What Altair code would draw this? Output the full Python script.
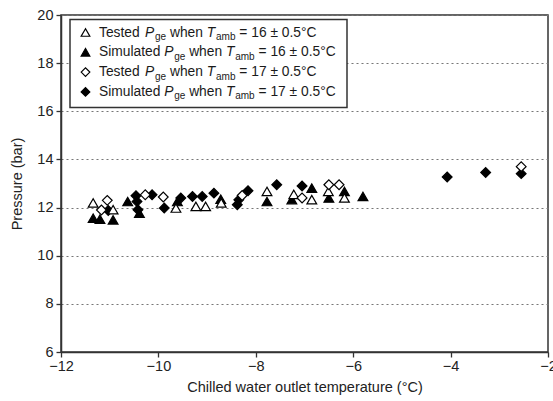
import altair as alt
import pandas as pd

# ---- data ----
t16_x = [-11.34, -10.93, -9.64, -9.23, -9.03, -8.71, -7.77, -7.22, -6.85, -6.51, -6.18]
t16_y = [12.19, 11.91, 11.98, 12.05, 12.05, 12.19, 12.67, 12.55, 12.33, 12.67, 12.40]

s16_x = [-11.34, -11.20, -10.93, -10.63, -10.39, -9.61, -8.72, -7.77, -7.26, -6.85, -6.50, -6.18, -5.80]
s16_y = [11.56, 11.52, 11.49, 12.25, 11.77, 12.25, 12.35, 12.25, 12.33, 12.81, 12.40, 12.67, 12.46]

t17_x = [-11.05, -11.17, -10.27, -9.90, -8.28, -7.05, -6.50, -6.29, -2.55]
t17_y = [12.30, 11.90, 12.53, 12.44, 12.50, 12.40, 12.95, 12.95, 13.70]

s17_x = [-11.03, -10.46, -10.44, -10.42, -10.13, -9.88, -9.54, -9.30, -9.10, -8.86,
         -8.38, -8.35, -8.16, -7.57, -7.05, -4.07, -3.28, -2.55]
s17_y = [11.88, 12.49, 12.25, 11.91, 12.53, 11.98, 12.40, 12.46, 12.46, 12.60,
         12.12, 12.32, 12.70, 12.95, 12.90, 13.27, 13.46, 13.41]

x_ticks = [-12, -10, -8, -6, -4, -2]
y_ticks = [6, 8, 10, 12, 14, 16, 18, 20]

series_names = ["t16", "s16", "t17", "s17"]
legend_prefix = ["Tested ", "Simulated ", "Tested ", "Simulated "]
legend_temp = ["16", "16", "17", "17"]

FONT = "Liberation Sans"

rows = []
for name, xs, ys in [("t16", t16_x, t16_y), ("s16", s16_x, s16_y),
                     ("t17", t17_x, t17_y), ("s17", s17_x, s17_y)]:
    for a, b in zip(xs, ys):
        rows.append({"series": name, "temp": a, "pressure": b})
df = pd.DataFrame(rows)

shape_scale = alt.Scale(domain=series_names,
                        range=["triangle-up", "triangle-up", "diamond", "diamond"])
fill_scale = alt.Scale(domain=series_names,
                       range=["white", "black", "white", "black"])

points = alt.Chart(df).mark_point(filled=True, stroke="black", strokeWidth=1.2,
                                  size=95, opacity=1).encode(
    x=alt.X("temp:Q", scale=alt.Scale(domain=[-12, -2], nice=False),
            axis=alt.Axis(values=x_ticks, grid=False, labelFlush=False,
                          title="Chilled water outlet temperature (°C)",
                          format="d")),
    y=alt.Y("pressure:Q", scale=alt.Scale(domain=[6, 20], nice=False),
            axis=alt.Axis(values=y_ticks, grid=True, title="Pressure (bar)",
                          labelFlush=False, format="d")),
    shape=alt.Shape("series:N", scale=shape_scale, legend=None),
    fill=alt.Fill("series:N", scale=fill_scale, legend=None),
    order=alt.Order("series:N"),
)

# ---- hand-built legend (for subscripts / italics) ----
W = {' ': 278, '=': 584, '±': 584, '.': 278, '°': 400, 'C': 722, 'S': 667, 'T': 611,
     'P': 667, 'a': 556, 'b': 556, 'd': 556, 'e': 556, 'g': 556, 'h': 556, 'i': 222,
     'l': 222, 'm': 833, 'n': 556, 's': 500, 't': 278, 'u': 556, 'w': 722}


def tw(s, size):
    return sum(W.get(c, 556) for c in s) * size / 1000.0


one = pd.DataFrame({"k": [0]})
FS = 13.8
SUB = 10
box = alt.Chart(one).mark_rect(fill="white", stroke="#333", strokeWidth=1.5).encode(
    x=alt.value(9), x2=alt.value(286), y=alt.value(4.5), y2=alt.value(92.5))

layers = [points, box]
sym_shapes = ["triangle-up", "triangle-up", "diamond", "diamond"]
sym_fill = ["white", "black", "white", "black"]
for i in range(4):
    yc = 17.5 + 19.8 * i
    layers.append(alt.Chart(one).mark_point(shape=sym_shapes[i], filled=True,
                                            fill=sym_fill[i], stroke="black",
                                            strokeWidth=1.2, size=75, opacity=1).encode(
        x=alt.value(24.5), y=alt.value(yc)))
    pieces = [(legend_prefix[i], "normal"), ("P", "italic"), ("ge", "sub"),
              (" when ", "normal"), ("T", "italic"), ("amb", "sub"),
              (" = " + legend_temp[i] + " ± 0.5°C", "normal")]
    xpos = 38.0
    for txt, style in pieces:
        size = SUB if style == "sub" else FS
        dy = 4.5 if style == "sub" else 0
        lead = len(txt) - len(txt.lstrip(" "))
        shown = txt.strip(" ")
        mk = dict(align="left", baseline="middle", font=FONT, fontSize=size,
                  color="#1a1a1a")
        if style == "italic":
            mk["fontStyle"] = "italic"
        layers.append(alt.Chart(one).mark_text(**mk).encode(
            x=alt.value(xpos + tw(" " * lead, size)), y=alt.value(yc + dy),
            text=alt.value(shown)))
        xpos += tw(txt, size)
        if style == "italic":
            xpos += 0.8

chart = alt.layer(*layers).properties(
    width=487, height=337,
    autosize=alt.AutoSizeParams(type="none"),
    padding={"left": 61, "top": 15, "right": 5, "bottom": 49},
).configure_view(stroke="#333", strokeWidth=1.5).configure_axis(
    labelFont=FONT, titleFont=FONT, labelFontSize=14.5, titleFontSize=14.5,
    titleFontWeight="normal", labelColor="#222", titleColor="#222",
    domainColor="#333", domainWidth=1.5, tickColor="#333", tickWidth=1.3, tickSize=5,
    gridColor="#777", gridDash=[2, 3], gridWidth=1.2, labelPadding=3,
).configure_axisY(titlePadding=12).configure_axisX(titlePadding=8, labelPadding=2)

chart.save("out.html", embed_options={"renderer": "svg", "actions": False})
